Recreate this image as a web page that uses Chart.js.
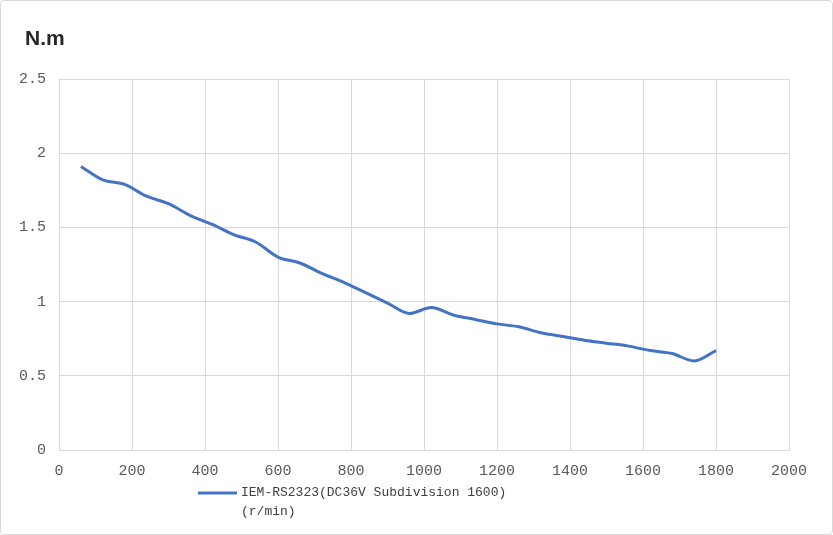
<!DOCTYPE html>
<html lang="en">
<head>
    <meta charset="UTF-8">
    <title>Torque Curve</title>
    <script src="https://cdn.jsdelivr.net/npm/chart.js"></script>
    <style>
        body {
            margin: 0;
            background: #ffffff;
        }

        .frame {
            width: 833px;
            height: 535px;
            box-sizing: border-box;
            border: 1px solid #d9d9d9;
            border-radius: 4px;
            position: relative;
        }
    </style>
</head>
<body>
    <div class="frame">
        <canvas id="torqueChart"></canvas>
    </div>

    <script>
        // speed (r/min) and torque (N.m)
        const speeds = [60, 120, 180, 240, 300, 360, 420, 480, 540, 600,
            660, 720, 780, 840, 900, 960, 1020, 1080, 1140, 1200,
            1260, 1320, 1380, 1440, 1500, 1560, 1620, 1680, 1740, 1800];
        const torque = [1.91, 1.82, 1.79, 1.71, 1.66, 1.58, 1.52, 1.45, 1.40, 1.30,
            1.26, 1.19, 1.13, 1.06, 0.99, 0.92, 0.96, 0.91, 0.88, 0.85,
            0.83, 0.79, 0.765, 0.74, 0.72, 0.70, 0.67, 0.65, 0.60, 0.67];

        const seriesName = 'IEM-RS2323(DC36V Subdivision 1600)';
        const unitLabel = '(r/min)';
        const yUnit = 'N.m';

        const tickFont = { family: '"Liberation Mono", monospace', size: 15 };

        // legend + unit title drawn by hand (Excel wraps the legend onto two lines)
        const extras = {
            id: 'extras',
            afterDraw(chart) {
                const c = chart.ctx;
                c.save();
                c.fillStyle = '#262626';
                c.font = 'bold 21px "Liberation Sans", Arial, sans-serif';
                c.textBaseline = 'middle';
                c.fillText(yUnit, 24, 38);

                c.strokeStyle = '#4472C4';
                c.lineWidth = 3;
                c.beginPath();
                c.moveTo(197, 492);
                c.lineTo(236, 492);
                c.stroke();

                c.fillStyle = '#404040';
                c.font = '13px "Liberation Mono", monospace';
                c.fillText(seriesName, 240, 492);
                c.fillText(unitLabel, 240, 511);
                c.restore();
            }
        };

        new Chart(document.getElementById('torqueChart'), {
            type: 'line',
            data: {
                datasets: [{
                    label: seriesName,
                    data: speeds.map((s, i) => ({ x: s, y: torque[i] })),
                    borderColor: '#4472C4',
                    borderWidth: 3,
                    pointRadius: 0,
                    tension: 0.4,
                    cubicInterpolationMode: 'monotone',
                    fill: false,
                }],
            },
            options: {
                responsive: true,
                maintainAspectRatio: false,
                animation: false,
                layout: {
                    padding: { top: 78, right: 43, bottom: 42, left: 0 },
                },
                plugins: {
                    legend: { display: false },
                    tooltip: { enabled: false },
                },
                scales: {
                    x: {
                        type: 'linear',
                        min: 0,
                        max: 2000,
                        ticks: {
                            stepSize: 200, color: '#595959', font: tickFont, padding: 12,
                            callback: v => String(v),
                        },
                        grid: { color: '#d9d9d9', drawTicks: false },
                        border: { color: '#d9d9d9' },
                    },
                    y: {
                        min: 0,
                        max: 2.5,
                        ticks: {
                            stepSize: 0.5, color: '#595959', font: tickFont, padding: 13,
                            callback: v => String(v),
                        },
                        grid: { color: '#d9d9d9', drawTicks: false },
                        border: { display: false },
                        afterFit(scale) { scale.width = 58; },
                    },
                },
            },
            plugins: [extras],
        });
    </script>
</body>
</html>
